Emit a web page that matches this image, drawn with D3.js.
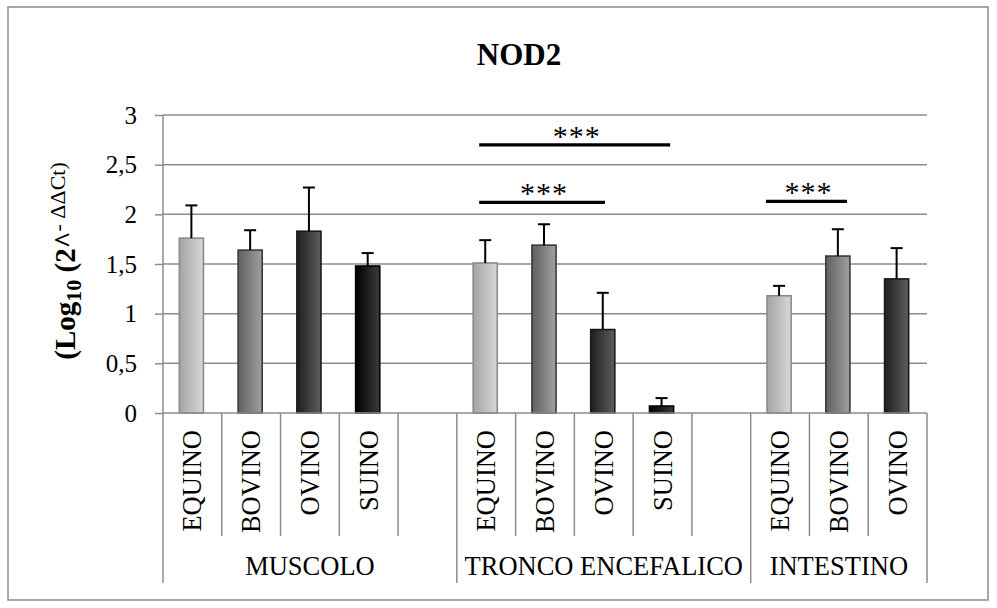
<!DOCTYPE html>
<html>
<head>
<meta charset="utf-8">
<script src="https://cdn.jsdelivr.net/npm/d3@7"></script>
<style>
  body { margin: 0; background: #fff; }
  svg { display: block; }
  text { font-family: "Liberation Serif", "Times New Roman", serif; fill: #000; }
</style>
</head>
<body>
<svg id="chart" width="997" height="608"></svg>
<script>
// ---- data ----
const groups = ["MUSCOLO", "TRONCO ENCEFALICO", "INTESTINO"];
const groupSpecies = [
  ["EQUINO", "BOVINO", "OVINO", "SUINO", ""],
  ["EQUINO", "BOVINO", "OVINO", "SUINO", ""],
  ["EQUINO", "BOVINO", "OVINO"]
];
const meanValues = [
  [1.76, 1.64, 1.83, 1.48],
  [1.51, 1.69, 0.84, 0.07],
  [1.18, 1.58, 1.35]
];
const errorValues = [
  [0.33, 0.20, 0.44, 0.13],
  [0.23, 0.21, 0.37, 0.08],
  [0.10, 0.27, 0.31]
];
const yTicks = [0, 0.5, 1, 1.5, 2, 2.5, 3];
const yTickLabels = ["0", "0,5", "1", "1,5", "2", "2,5", "3"];

// significance brackets, spans given in category-slot units
const sigStart = [5.38, 5.38, 10.26];
const sigEnd = [8.63, 7.52, 11.64];
const sigLevel = [2.70, 2.12, 2.13];
const sigText = ["***", "***", "***"];

// ---- layout ----
const svg = d3.select("#chart");
const plot = { left: 163, right: 927, top: 115, bottom: 413 };
const speciesBottom = 536, groupBottom = 583;
const axisGray = "#8c8c8c";

// flatten slots (one per category position, blanks included)
const slots = [];
groupSpecies.forEach((list, g) => list.forEach((sp, i) => {
  slots.push({ id: slots.length, group: g, species: sp, idx: i,
    value: sp ? meanValues[g][i] : null, err: sp ? errorValues[g][i] : null });
}));

const x = d3.scaleBand().domain(slots.map(d => d.id)).range([plot.left, plot.right]).padding(0);
const xSlot = d3.scaleLinear().domain([0, slots.length]).range([plot.left, plot.right]);
const y = d3.scaleLinear().domain([0, 3]).range([plot.bottom, plot.top]);

// outer frame
svg.append("rect").attr("x", 8).attr("y", 7).attr("width", 980).attr("height", 593)
  .attr("fill", "#fff").attr("stroke", axisGray).attr("stroke-width", 1.5);

// bar fills: horizontal gradients, darker on the left
const speciesStyle = {
  EQUINO: { from: "#a4a4a4", to: "#d8d8d8", stroke: "#8a8a8a" },
  BOVINO: { from: "#606060", to: "#a0a0a0", stroke: "#3a3a3a" },
  OVINO:  { from: "#1e1e1e", to: "#5e5e5e", stroke: "#1a1a1a" },
  SUINO:  { from: "#000000", to: "#3c3c3c", stroke: "#000000" }
};
const defs = svg.append("defs");
Object.entries(speciesStyle).forEach(([k, s]) => {
  const g = defs.append("linearGradient").attr("id", "grad-" + k)
    .attr("x1", "0%").attr("x2", "100%").attr("y1", "0%").attr("y2", "0%");
  g.append("stop").attr("offset", "0%").attr("stop-color", s.from);
  g.append("stop").attr("offset", "100%").attr("stop-color", s.to);
});

// title
svg.append("text").attr("x", 519).attr("y", 65).attr("text-anchor", "middle")
  .attr("font-size", 31).attr("font-weight", "bold").text("NOD2");

// gridlines
svg.append("g").selectAll("line").data(yTicks.filter(t => t > 0)).join("line")
  .attr("x1", plot.left).attr("x2", plot.right)
  .attr("y1", d => y(d)).attr("y2", d => y(d))
  .attr("stroke", axisGray).attr("stroke-width", 1.5);

// y axis
const yAxis = svg.append("g").attr("transform", `translate(${plot.left},0)`)
  .call(d3.axisLeft(y).tickValues(yTicks).tickSize(8).tickFormat((d, i) => yTickLabels[i]));
yAxis.select(".domain").remove();
yAxis.selectAll(".tick line").attr("stroke", axisGray).attr("stroke-width", 1.5);
yAxis.selectAll(".tick text").attr("font-size", 25).attr("x", -26)
  .style("font-family", '"Liberation Serif", "Times New Roman", serif');
svg.append("line").attr("x1", plot.left).attr("x2", plot.left)
  .attr("y1", plot.top).attr("y2", groupBottom)
  .attr("stroke", axisGray).attr("stroke-width", 1.5);

// y axis title
const yTitle = svg.append("text")
  .attr("transform", "translate(75,261) rotate(-90)")
  .attr("text-anchor", "middle").attr("font-size", 29).attr("font-weight", "bold");
yTitle.append("tspan").text("(Log");
yTitle.append("tspan").attr("font-size", 22).attr("dy", 6).text("10");
yTitle.append("tspan").attr("dy", -6).text(" (2^");
yTitle.append("tspan").attr("font-size", 22).attr("font-weight", "normal").attr("dy", -10).text("- \u0394\u0394Ct)");

// bars
const barW = x.bandwidth() * 0.41;
const dataSlots = slots.filter(d => d.species);
svg.append("g").selectAll("rect").data(dataSlots).join("rect")
  .attr("x", d => x(d.id) + x.bandwidth() / 2 - barW / 2 - 1)
  .attr("width", barW)
  .attr("y", d => y(d.value))
  .attr("height", d => y(0) - y(d.value))
  .attr("fill", d => `url(#grad-${d.species})`)
  .attr("stroke", d => speciesStyle[d.species].stroke)
  .attr("stroke-width", 1.6);

// error bars (upper only)
const eb = svg.append("g").attr("stroke", "#000").attr("stroke-width", 2);
dataSlots.forEach(d => {
  const cx = x(d.id) + x.bandwidth() / 2 - 1;
  eb.append("line").attr("x1", cx).attr("x2", cx).attr("y1", y(d.value)).attr("y2", y(d.value + d.err));
  eb.append("line").attr("x1", cx - 6).attr("x2", cx + 6)
    .attr("y1", y(d.value + d.err)).attr("y2", y(d.value + d.err));
});

// category axis line
svg.append("line").attr("x1", plot.left).attr("x2", plot.right)
  .attr("y1", plot.bottom).attr("y2", plot.bottom)
  .attr("stroke", axisGray).attr("stroke-width", 1.5);

// category dividers: short between species, long between groups
const groupEnds = [];
let acc = 0;
groupSpecies.forEach(list => { acc += list.length; groupEnds.push(acc); });
d3.range(1, slots.length + 1).forEach(k => {
  const long = groupEnds.includes(k);
  svg.append("line").attr("x1", xSlot(k)).attr("x2", xSlot(k))
    .attr("y1", plot.bottom).attr("y2", long ? groupBottom : speciesBottom)
    .attr("stroke", axisGray).attr("stroke-width", 1.5);
});

// species labels (rotated)
svg.append("g").selectAll("text").data(dataSlots).join("text")
  .attr("transform", d => `translate(${x(d.id) + x.bandwidth() / 2 + 9},430) rotate(-90)`)
  .attr("text-anchor", "end").attr("font-size", 26.5).text(d => d.species);

// group labels
let start = 0;
groupSpecies.forEach((list, g) => {
  const cx = (xSlot(start) + xSlot(start + list.length)) / 2;
  svg.append("text").attr("x", cx).attr("y", 575).attr("text-anchor", "middle")
    .attr("font-size", 26.5).text(groups[g]);
  start += list.length;
});

// significance brackets
sigLevel.forEach((lv, i) => {
  const x1 = xSlot(sigStart[i]), x2 = xSlot(sigEnd[i]);
  svg.append("line").attr("x1", x1).attr("x2", x2).attr("y1", y(lv)).attr("y2", y(lv))
    .attr("stroke", "#000").attr("stroke-width", 3.2);
  svg.append("text").attr("x", (x1 + x2) / 2 + 2).attr("y", y(lv) + 1)
    .attr("text-anchor", "middle").attr("font-size", 30).attr("letter-spacing", 1)
    .text(sigText[i]);
});
</script>
</body>
</html>
